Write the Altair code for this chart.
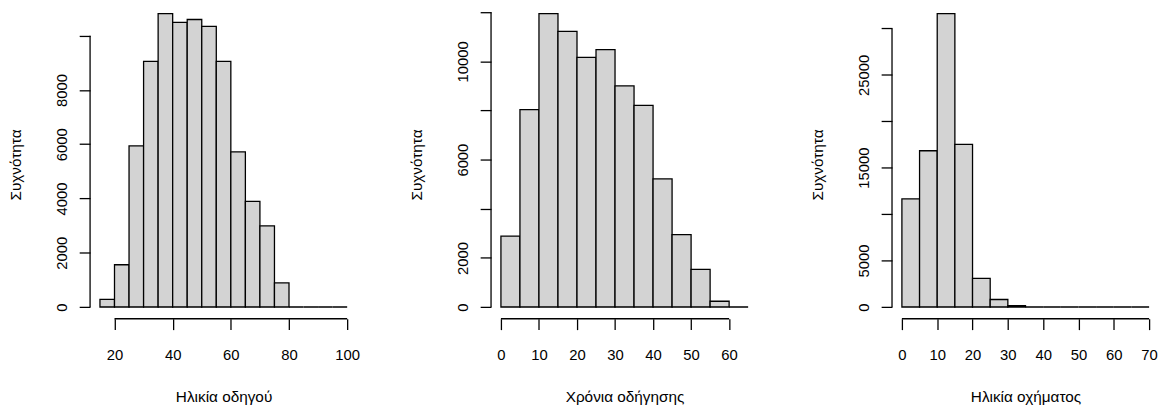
import altair as alt
import pandas as pd

FONT = "Liberation Sans"
Y_TITLE = "Συχνότητα"

# Panel 1: driver age
p1_starts = [15, 20, 25, 30, 35, 40, 45, 50, 55, 60, 65, 70, 75, 80, 85, 90, 95]
p1_counts = [280, 1557, 5937, 9051, 10815, 10487, 10596, 10341, 9051, 5718, 3893, 2993, 888, 0, 0, 0, 0]
p1_xticks = [20, 40, 60, 80, 100]
p1_yticks = [0, 2000, 4000, 6000, 8000, 10000]
p1_ylabels = [0, 2000, 4000, 6000, 8000]
p1_title = "Ηλικία οδηγού"

# Panel 2: years of driving
p2_starts = [0, 5, 10, 15, 20, 25, 30, 35, 40, 45, 50, 55, 60]
p2_counts = [2889, 8036, 11946, 11220, 10159, 10481, 9003, 8210, 5214, 2943, 1532, 235, 0]
p2_xticks = [0, 10, 20, 30, 40, 50, 60]
p2_yticks = [0, 2000, 4000, 6000, 8000, 10000, 12000]
p2_ylabels = [0, 2000, 6000, 10000]
p2_title = "Χρόνια οδήγησης"

# Panel 3: vehicle age
p3_starts = [0, 5, 10, 15, 20, 25, 30, 35, 40, 45, 50, 55, 60, 65]
p3_counts = [11645, 16828, 31598, 17503, 3089, 809, 150, 0, 0, 0, 0, 0, 0, 0]
p3_xticks = [0, 10, 20, 30, 40, 50, 60, 70]
p3_yticks = [0, 5000, 10000, 15000, 20000, 25000, 30000]
p3_ylabels = [0, 5000, 15000, 25000]
p3_title = "Ηλικία οχήματος"

BIN_W = 5
W = 270
H = 312
LW = 1.3


def panel(starts, counts, xticks, yticks, ylabels, xtitle):
    ends = [s + BIN_W for s in starts]
    df = pd.DataFrame({"start": starts, "end": ends, "count": counts,
                       "base": [0] * len(starts)})
    M = max(counts)
    xlo, xhi = starts[0], ends[-1]
    xr = xhi - xlo
    xdom = [xlo - 0.04 * xr, xhi + 0.04 * xr]
    ylo = -0.04 * M
    yhi = ylo + H * 1.08 * M / 320.5
    xs = alt.Scale(domain=xdom, nice=False, zero=False)
    ys = alt.Scale(domain=[ylo, yhi], nice=False, zero=False)
    lab = "[" + ",".join(str(v) for v in ylabels) + "]"
    xaxis = alt.Axis(values=xticks, title=xtitle, domain=False, grid=False,
                     tickSize=11, tickWidth=LW, tickColor="black",
                     labelPadding=18, titlePadding=28, labelFlush=False,
                     labelOverlap=False, format="d")
    yaxis = alt.Axis(values=yticks, title=Y_TITLE, domain=False, grid=False,
                     tickSize=11, tickWidth=LW, tickColor="black",
                     labelAngle=270, labelAlign="center", labelBaseline="bottom",
                     labelPadding=10, titlePadding=31, labelFlush=False,
                     labelOverlap=False, format="d",
                     labelExpr="indexof(" + lab + ", datum.value) >= 0 ? datum.label : ''")
    bars = alt.Chart(df).mark_bar(fill="#D3D3D3", stroke="black", strokeWidth=LW).encode(
        x=alt.X("start:Q", scale=xs, axis=xaxis),
        x2="end:Q",
        y=alt.Y("count:Q", scale=ys, axis=yaxis),
        y2="base:Q",
    )
    ydf = pd.DataFrame({"count": [yticks[-1]], "base": [yticks[0]]})
    yline = alt.Chart(ydf).mark_rule(color="black", strokeWidth=LW).encode(
        x=alt.value(0),
        y=alt.Y("count:Q", scale=ys, axis=yaxis),
        y2="base:Q",
    )
    xdf = pd.DataFrame({"start": [xticks[0]], "end": [xticks[-1]]})
    xline = alt.Chart(xdf).mark_rule(color="black", strokeWidth=LW).encode(
        x=alt.X("start:Q", scale=xs, axis=xaxis),
        x2="end:Q",
        y=alt.value(H),
    )
    return alt.layer(bars, yline, xline).properties(width=W, height=H)


c1 = panel(p1_starts, p1_counts, p1_xticks, p1_yticks, p1_ylabels, p1_title)
c2 = panel(p2_starts, p2_counts, p2_xticks, p2_yticks, p2_ylabels, p2_title)
c3 = panel(p3_starts, p3_counts, p3_xticks, p3_yticks, p3_ylabels, p3_title)

chart = alt.hconcat(c1, c2, c3, spacing=135.5, bounds="flush").properties(
    padding=0, background="white"
).configure_view(stroke=None).configure_axis(
    labelFont=FONT, titleFont=FONT, labelFontSize=15, titleFontSize=15.5,
    labelColor="black", titleColor="black", titleFontWeight="normal",
)

chart.save("out.html", embed_options={"renderer": "svg", "actions": False})
